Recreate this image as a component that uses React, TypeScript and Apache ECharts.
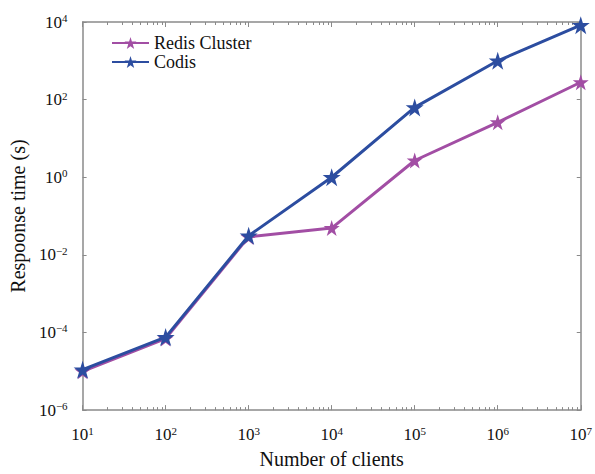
import React, { useEffect, useRef } from "react";
import * as echarts from "echarts";

const clients = [10, 100, 1000, 10000, 100000, 1000000, 10000000];
const redisCluster = [1.0e-5, 7.0e-5, 0.029, 0.049, 2.7, 26, 280];
const codis = [1.1e-5, 7.6e-5, 0.031, 1.0, 63, 1000, 8300];
const seriesNames = ["Redis Cluster", "Codis"];
const xMinorTicks = [
  20, 30, 40, 50, 60, 70, 80, 90,
  200, 300, 400, 500, 600, 700, 800, 900,
  2000, 3000, 4000, 5000, 6000, 7000, 8000, 9000,
  20000, 30000, 40000, 50000, 60000, 70000, 80000, 90000,
  200000, 300000, 400000, 500000, 600000, 700000, 800000, 900000,
  2000000, 3000000, 4000000, 5000000, 6000000, 7000000, 8000000, 9000000,
];

const STAR =
  "path://M12,0 L14.8,8.6 L24,8.6 L16.6,14 L19.4,22.8 L12,17.4 L4.6,22.8 L7.4,14 L0,8.6 L9.2,8.6 Z";

const FONT = "'Liberation Serif', 'DejaVu Serif', serif";
const AXIS_COLOR = "#8a8a8a";

const supFormatter = (v: number) => {
  const e = Math.round(Math.log10(v));
  const s = e < 0 ? "\u2212" + Math.abs(e) : String(e);
  return "10{sup|" + s + "}";
};

const richLabel = {
  fontFamily: FONT,
  fontSize: 17,
  color: "#111",
  lineHeight: 19,
  rich: {
    sup: { fontFamily: FONT, fontSize: 11, lineHeight: 11, verticalAlign: "top", color: "#111" },
  },
};

export default function App() {
  const ref = useRef<HTMLDivElement>(null);
  useEffect(() => {
    if (!ref.current) return;
    const chart = echarts.init(ref.current, undefined, { renderer: "svg" });
    const axisLine = { show: true, lineStyle: { color: AXIS_COLOR, width: 1.5 } };
    chart.setOption({
      animation: false,
      backgroundColor: "#fff",
      grid: { left: 81, right: 14, top: 22, bottom: 60 },
      legend: {
        orient: "vertical",
        left: 106,
        top: 29,
        itemWidth: 37,
        itemHeight: 15,
        itemGap: 1,
        textStyle: { fontFamily: FONT, fontSize: 18, lineHeight: 16, color: "#111" },
        data: seriesNames,
      },
      xAxis: [
        {
          type: "log",
          min: 10,
          max: 10000000,
          interval: 1,
          position: "bottom",
          name: "Number of clients",
          nameLocation: "middle",
          nameGap: 38,
          nameTextStyle: { fontFamily: FONT, fontSize: 20, color: "#111" },
          axisLine,
          axisTick: { show: true, inside: true, length: 5, lineStyle: { color: AXIS_COLOR } },
          axisLabel: { ...richLabel, margin: 15, formatter: supFormatter },
          splitLine: { show: false },
        },
        {
          type: "log",
          min: 10,
          max: 10000000,
          interval: 1,
          position: "top",
          axisLine,
          axisTick: { show: true, inside: true, length: 5, lineStyle: { color: AXIS_COLOR } },
          axisLabel: { show: false },
          splitLine: { show: false },
        },
        {
          type: "log",
          min: 10,
          max: 10000000,
          position: "bottom",
          axisLine: { show: false },
          axisTick: { show: true, inside: true, length: 3, customValues: xMinorTicks, lineStyle: { color: AXIS_COLOR } },
          axisLabel: { show: false },
          splitLine: { show: false },
        },
        {
          type: "log",
          min: 10,
          max: 10000000,
          position: "top",
          axisLine: { show: false },
          axisTick: { show: true, inside: true, length: 3, customValues: xMinorTicks, lineStyle: { color: AXIS_COLOR } },
          axisLabel: { show: false },
          splitLine: { show: false },
        },
      ],
      yAxis: [
        {
          type: "log",
          min: 1e-6,
          max: 1e4,
          interval: 2,
          position: "left",
          name: "Respoonse time (s)",
          nameLocation: "middle",
          nameGap: 50,
          nameTextStyle: { fontFamily: FONT, fontSize: 20, color: "#111" },
          axisLine,
          axisTick: { show: true, inside: true, length: 4, lineStyle: { color: AXIS_COLOR } },
          axisLabel: { ...richLabel, margin: 15, formatter: supFormatter },
          splitLine: { show: false },
        },
        {
          type: "log",
          min: 1e-6,
          max: 1e4,
          interval: 2,
          position: "right",
          axisLine,
          axisTick: { show: true, inside: true, length: 4, lineStyle: { color: AXIS_COLOR } },
          axisLabel: { show: false },
          splitLine: { show: false },
        },
      ],
      series: [
        {
          name: seriesNames[0],
          type: "line",
          data: clients.map((c, i) => [c, redisCluster[i]]),
          symbol: STAR,
          symbolSize: 16,
          lineStyle: { color: "#a24ea4", width: 3 },
          itemStyle: { color: "#a24ea4" },
          z: 2,
        },
        {
          name: seriesNames[1],
          type: "line",
          data: clients.map((c, i) => [c, codis[i]]),
          symbol: STAR,
          symbolSize: 18,
          lineStyle: { color: "#2c4da0", width: 3 },
          itemStyle: { color: "#2c4da0" },
          z: 3,
        },
      ],
    });
    return () => chart.dispose();
  }, []);
  return <div ref={ref} style={{ width: 595, height: 474, position: "absolute", left: 0, top: 0 }} />;
}
